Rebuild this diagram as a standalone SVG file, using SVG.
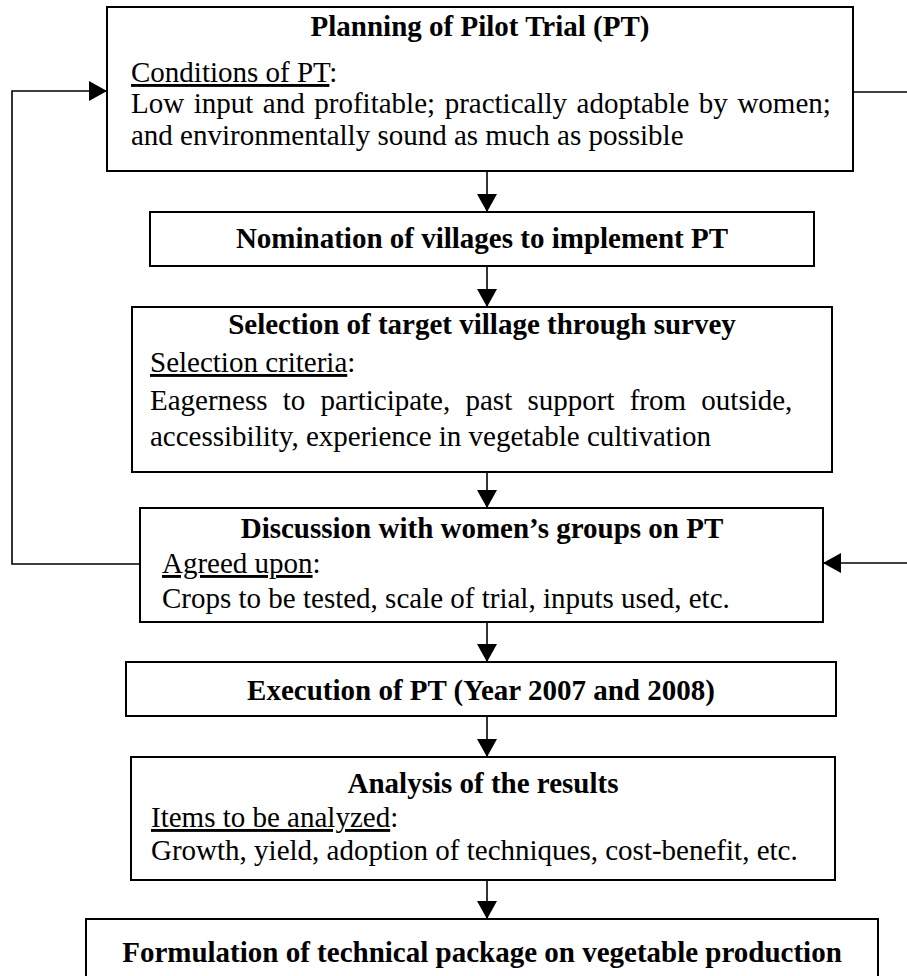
<svg xmlns="http://www.w3.org/2000/svg" width="907" height="976" viewBox="0 0 907 976">
  <defs>
    <marker id="arrow" markerWidth="18" markerHeight="20" refX="18" refY="10" orient="auto" markerUnits="userSpaceOnUse">
      <path d="M0,0 L18,10 L0,20 Z" fill="#000"/>
    </marker>
  </defs>
  <style>
    .box{fill:#fff;stroke:#000;stroke-width:2}
    .t{font-family:"Liberation Serif","Times New Roman",serif;font-size:29px;fill:#000}
    .b{font-weight:bold;text-anchor:middle}
    .u{text-decoration:underline}
    .link{fill:none;stroke:#000;stroke-width:1.6}
  </style>
  <rect width="907" height="976" fill="#fff"/>

  <!-- connectors -->
  <g id="connectors">
    <line class="link" x1="487" y1="171" x2="487" y2="212" marker-end="url(#arrow)"/>
    <line class="link" x1="487" y1="266" x2="487" y2="307" marker-end="url(#arrow)"/>
    <line class="link" x1="487" y1="472" x2="487" y2="508" marker-end="url(#arrow)"/>
    <line class="link" x1="487" y1="622" x2="487" y2="662" marker-end="url(#arrow)"/>
    <line class="link" x1="487" y1="716" x2="487" y2="757" marker-end="url(#arrow)"/>
    <line class="link" x1="487" y1="880" x2="487" y2="919" marker-end="url(#arrow)"/>
    <!-- feedback loop on the left -->
    <path class="link" d="M140,564 H12 V91 H107" marker-end="url(#arrow)"/>
    <!-- feedback loop on the right -->
    <path class="link" d="M853,92 H907"/>
    <path class="link" d="M907,563 H823" marker-end="url(#arrow)"/>
  </g>

  <g id="planning">
    <rect class="box" x="107" y="7" width="746" height="164"/>
    <text class="t b" x="480" y="36">Planning of Pilot Trial (PT)</text>
    <text class="t" x="131" y="82"><tspan class="u">Conditions of PT</tspan>:</text>
    <text class="t" x="131" y="113" word-spacing="2.3">Low input and profitable; practically adoptable by women;</text>
    <text class="t" x="131" y="145">and environmentally sound as much as possible</text>
  </g>

  <g id="nomination">
    <rect class="box" x="150" y="212" width="664" height="54"/>
    <text class="t b" x="482" y="248">Nomination of villages to implement PT</text>
  </g>

  <g id="selection">
    <rect class="box" x="132" y="307" width="700" height="165"/>
    <text class="t b" x="482" y="334">Selection of target village through survey</text>
    <text class="t" x="150" y="372"><tspan class="u">Selection criteria</tspan>:</text>
    <text class="t" x="150" y="410" word-spacing="8">Eagerness to participate, past support from outside,</text>
    <text class="t" x="150" y="446">accessibility, experience in vegetable cultivation</text>
  </g>

  <g id="discussion">
    <rect class="box" x="140" y="508" width="683" height="114"/>
    <text class="t b" x="482" y="538">Discussion with women’s groups on PT</text>
    <text class="t" x="162" y="573"><tspan class="u">Agreed upon</tspan>:</text>
    <text class="t" x="162" y="608">Crops to be tested, scale of trial, inputs used, etc.</text>
  </g>

  <g id="execution">
    <rect class="box" x="126" y="662" width="710" height="54"/>
    <text class="t b" x="481" y="700">Execution of PT (Year 2007 and 2008)</text>
  </g>

  <g id="analysis">
    <rect class="box" x="131" y="757" width="704" height="123"/>
    <text class="t b" x="483" y="793">Analysis of the results</text>
    <text class="t" x="151" y="827"><tspan class="u">Items to be analyzed</tspan>:</text>
    <text class="t" x="151" y="860">Growth, yield, adoption of techniques, cost-benefit, etc.</text>
  </g>

  <g id="formulation">
    <rect class="box" x="86" y="919" width="792" height="80"/>
    <text class="t b" x="482" y="962">Formulation of technical package on vegetable production</text>
  </g>
</svg>
